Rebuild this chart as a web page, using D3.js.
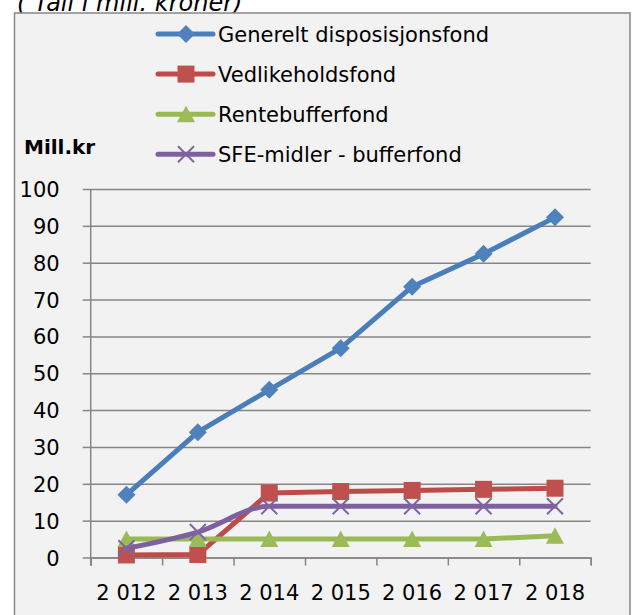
<!DOCTYPE html>
<html>
<head>
<meta charset="utf-8">
<script src="https://cdn.jsdelivr.net/npm/d3@7"></script>
<style>
  body { margin: 0; background: #fff; }
  svg text { font-family: "DejaVu Sans", sans-serif; fill: #000; }
</style>
</head>
<body>
<div id="chart"></div>
<script>
var years = [2012, 2013, 2014, 2015, 2016, 2017, 2018];
var yearLabels = ["2 012", "2 013", "2 014", "2 015", "2 016", "2 017", "2 018"];
var yTicks = [0, 10, 20, 30, 40, 50, 60, 70, 80, 90, 100];

var seriesNames = ["Generelt disposisjonsfond", "Vedlikeholdsfond", "Rentebufferfond", "SFE-midler - bufferfond"];
var disposisjonsfond = [17.0, 34.0, 45.5, 56.8, 73.5, 82.4, 92.3];
var vedlikeholdsfond = [0.7, 0.8, 17.5, 17.9, 18.2, 18.5, 18.8];
var rentebufferfond = [5.0, 5.0, 5.0, 5.0, 5.0, 5.0, 5.9];
var sfeMidler = [2.5, 6.9, 13.9, 13.9, 13.9, 13.9, 13.9];

var series = [
  {name: seriesNames[0], values: disposisjonsfond, line: "#4a7ebb", fill: "#4f81bd", marker: "diamond", smooth: false},
  {name: seriesNames[1], values: vedlikeholdsfond, line: "#be4b48", fill: "#c0504d", marker: "square", smooth: false},
  {name: seriesNames[2], values: rentebufferfond, line: "#98b954", fill: "#9bbb59", marker: "triangle", smooth: false},
  {name: seriesNames[3], values: sfeMidler, line: "#7d60a0", fill: "#8064a2", marker: "x", smooth: true}
];

var W = 632, H = 615;
var plot = {left: 90.7, right: 590.7, top: 189, bottom: 557.5};
var gridColor = "#868686";

var svg = d3.select("#chart").append("svg")
    .attr("width", W)
    .attr("height", H);

// title, partly hidden behind the chart frame
svg.append("text")
    .attr("x", 17)
    .attr("y", 11)
    .attr("font-size", 24)
    .attr("font-style", "italic")
    .text("( Tall i mill. kroner)");

svg.append("rect")
    .attr("x", 14.5)
    .attr("y", 13)
    .attr("width", 615.5)
    .attr("height", 640)
    .attr("fill", "#f2f2f2")
    .attr("stroke", gridColor)
    .attr("stroke-width", 1.5);

var xScale = d3.scaleBand().domain(years).range([plot.left, plot.right]).padding(0),
    xBound = d3.scaleLinear().domain([0, years.length]).range([plot.left, plot.right]),
    yScale = d3.scaleLinear().domain([0, 100]).range([plot.bottom, plot.top]);

function cx(d, i) { return xScale(years[i]) + xScale.bandwidth() / 2; }

// gridlines
svg.append("g")
    .attr("class", "grid")
    .attr("transform", "translate(" + plot.left + ",0)")
    .call(d3.axisLeft(yScale).tickValues(yTicks).tickSize(-(plot.right - plot.left)).tickFormat(""))
    .call(function(g) {
      g.select(".domain").remove();
      g.selectAll("line").attr("stroke", gridColor).attr("stroke-width", 1.5);
    });

// y axis ticks + labels
svg.append("g")
    .attr("class", "y axis")
    .attr("transform", "translate(" + plot.left + ",0)")
    .call(d3.axisLeft(yScale).tickValues(yTicks).tickSize(8).tickPadding(23))
    .call(function(g) {
      g.select(".domain").remove();
      g.attr("font-family", null).attr("font-size", 21);
      g.selectAll("line").attr("stroke", gridColor).attr("stroke-width", 1.5);
      g.selectAll("text").attr("dy", "0.36em");
    });

// vertical axis line
svg.append("line")
    .attr("x1", plot.left).attr("x2", plot.left)
    .attr("y1", plot.top).attr("y2", plot.bottom + 8)
    .attr("stroke", gridColor)
    .attr("stroke-width", 1.5);

// x axis ticks between categories
svg.append("g")
    .attr("class", "x ticks")
    .attr("transform", "translate(0," + plot.bottom + ")")
    .call(d3.axisBottom(xBound).tickValues(d3.range(years.length + 1)).tickSize(8).tickFormat(""))
    .call(function(g) {
      g.select(".domain").attr("stroke", gridColor).attr("stroke-width", 1.5);
      g.selectAll("line").attr("stroke", gridColor).attr("stroke-width", 1.5);
    });

// x axis labels
svg.append("g")
    .attr("class", "x axis")
    .attr("transform", "translate(0," + plot.bottom + ")")
    .call(d3.axisBottom(xScale).tickSize(0).tickPadding(28).tickFormat(function(d, i) { return yearLabels[i]; }))
    .call(function(g) {
      g.select(".domain").remove();
      g.attr("font-family", null).attr("font-size", 21);
    });

// y axis unit label
svg.append("text")
    .attr("x", 24)
    .attr("y", 154)
    .attr("font-size", 20)
    .attr("font-weight", "bold")
    .text("Mill.kr");

function drawMarker(sel, s) {
  if (s.marker === "diamond") {
    sel.append("path").attr("d", "M0,-9L9,0L0,9L-9,0Z").attr("fill", s.fill);
  } else if (s.marker === "square") {
    sel.append("path").attr("d", d3.symbol(d3.symbolSquare, 289)).attr("fill", s.fill);
  } else if (s.marker === "triangle") {
    sel.append("path").attr("d", "M0,-8.5L9,8L-9,8Z").attr("fill", s.fill);
  } else {
    sel.append("path").attr("d", "M-8,-8L8,8M-8,8L8,-8")
        .attr("fill", "none").attr("stroke", s.fill).attr("stroke-width", 2);
  }
}

// series
series.forEach(function(s) {
  var line = d3.line()
      .x(cx)
      .y(function(d) { return yScale(d); })
      .curve(s.smooth ? d3.curveMonotoneX : d3.curveLinear);

  var g = svg.append("g").attr("class", "series");

  g.append("path")
      .datum(s.values)
      .attr("d", line)
      .attr("fill", "none")
      .attr("stroke", s.line)
      .attr("stroke-width", 5)
      .attr("stroke-linejoin", "round")
      .attr("stroke-linecap", "round");

  g.selectAll(".marker")
      .data(s.values)
      .enter().append("g")
      .attr("class", "marker")
      .attr("transform", function(d, i) { return "translate(" + cx(d, i) + "," + yScale(d) + ")"; })
      .each(function() { drawMarker(d3.select(this), s); });
});

// legend
var legend = svg.append("g")
    .attr("class", "legend")
    .attr("transform", "translate(158,34)");

var item = legend.selectAll(".item")
    .data(series)
    .enter().append("g")
    .attr("class", "item")
    .attr("transform", function(d, i) { return "translate(0," + (i * 40.1) + ")"; });

item.append("line")
    .attr("x1", 0).attr("x2", 55)
    .attr("stroke", function(d) { return d.line; })
    .attr("stroke-width", 5)
    .attr("stroke-linecap", "round");

item.append("g")
    .attr("transform", "translate(28,0)")
    .each(function(d) { drawMarker(d3.select(this), d); });

item.append("text")
    .attr("x", 60)
    .attr("dy", "0.36em")
    .attr("font-size", 21)
    .text(function(d) { return d.name; });
</script>
</body>
</html>
